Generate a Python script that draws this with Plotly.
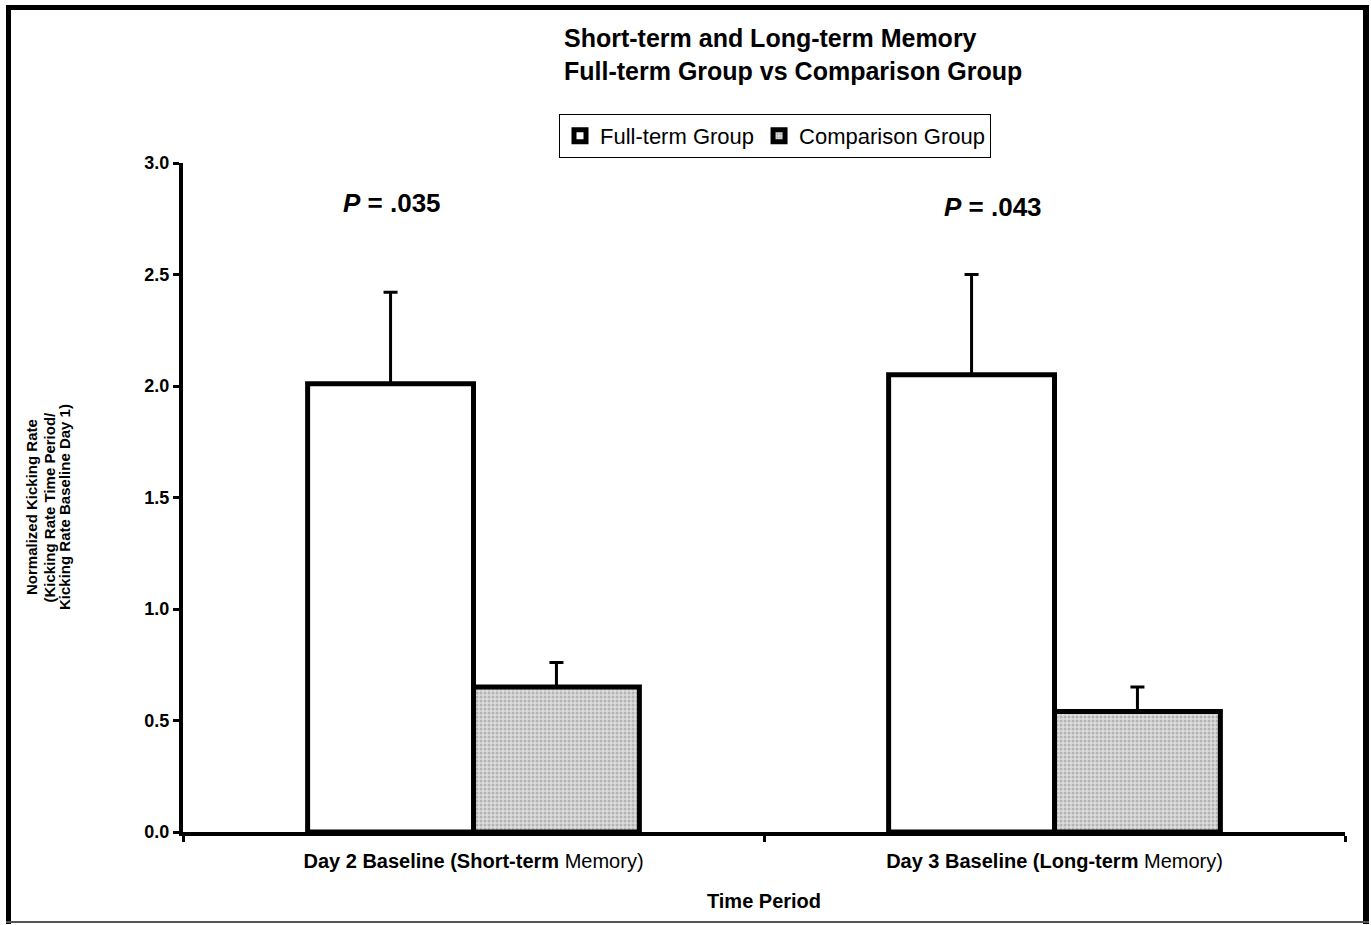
import plotly.graph_objects as go

# Data
categories = [
    "<b>Day 2 Baseline (Short-term</b> Memory)",
    "<b>Day 3 Baseline (Long-term</b> Memory)",
]
series_names = ["Full-term Group", "Comparison Group"]
full_term = [2.01, 2.05]
full_term_err = [0.41, 0.45]
comparison = [0.65, 0.54]
comparison_err = [0.11, 0.11]
p_labels = ["<i>P</i> = .035", "<i>P</i> = .043"]
y_ticks = [0.0, 0.5, 1.0, 1.5, 2.0, 2.5, 3.0]
y_title_lines = [
    "Normalized Kicking Rate",
    "(Kicking Rate Time Period/",
    "Kicking Rate Baseline Day 1)",
]

# Page geometry (pixels)
W, H = 1371, 925
L, R, T, B = 183, 1345, 163, 832


def px_x(x):
    return (x - L) / (R - L)


def px_y(y):
    return (B - y) / (B - T)


FONT = "Liberation Sans, Arial, sans-serif"

fig = go.Figure()
fig.add_trace(go.Bar(
    name=series_names[0], x=categories, y=full_term,
    marker=dict(color="white", line=dict(color="black", width=5)),
    error_y=dict(type="data", array=full_term_err, arrayminus=[0, 0],
                 symmetric=False, color="black", thickness=3, width=7),
))
fig.add_trace(go.Bar(
    name=series_names[1], x=categories, y=comparison,
    marker=dict(color="#d4d4d4", line=dict(color="black", width=5),
                pattern=dict(shape=".", fgcolor="#8a8a8a", bgcolor="#dcdcdc",
                             size=4, solidity=0.45)),
    error_y=dict(type="data", array=comparison_err, arrayminus=[0, 0],
                 symmetric=False, color="black", thickness=3, width=7),
))

annotations = [
    dict(text="<b>Short-term and Long-term Memory<br>Full-term Group vs Comparison Group</b>",
         x=px_x(562), y=px_y(22), xref="paper", yref="paper",
         xanchor="left", yanchor="top", align="left", showarrow=False,
         font=dict(family=FONT, size=25, color="black")),
]
p_pos = [(392, 203), (993, 207)]
for txt, (px, py) in zip(p_labels, p_pos):
    annotations.append(dict(
        text=f"<b>{txt}</b>", x=px_x(px), y=px_y(py), xref="paper", yref="paper",
        xanchor="center", yanchor="middle", showarrow=False,
        font=dict(family=FONT, size=26, color="black")))

# Rotated y-axis title, one line per annotation for tight line spacing
for line, px in zip(y_title_lines, [31, 48.5, 64]):
    annotations.append(dict(
        text=f"<b>{line}</b>", x=px_x(px), y=px_y(507), xref="paper", yref="paper",
        xanchor="center", yanchor="middle", textangle=-90, showarrow=False,
        font=dict(family=FONT, size=15, color="black")))

# Outer frame of the figure
shapes = [
    dict(type="line", xref="paper", yref="paper", x0=px_x(8.5), x1=px_x(8.5),
         y0=px_y(5), y1=px_y(924), line=dict(color="black", width=5)),
    dict(type="line", xref="paper", yref="paper", x0=px_x(6), x1=px_x(1369),
         y0=px_y(7.5), y1=px_y(7.5), line=dict(color="black", width=5)),
    dict(type="line", xref="paper", yref="paper", x0=px_x(1366), x1=px_x(1366),
         y0=px_y(5), y1=px_y(924), line=dict(color="black", width=6)),
    dict(type="line", xref="paper", yref="paper", x0=px_x(6), x1=px_x(1369),
         y0=px_y(922), y1=px_y(922), line=dict(color="#555555", width=2)),
]

fig.update_layout(
    width=W, height=H,
    margin=dict(l=L, r=W - R, t=T, b=H - B, pad=0),
    paper_bgcolor="white", plot_bgcolor="white",
    barmode="group", bargap=0.429, bargroupgap=0,
    font=dict(family=FONT, color="black"),
    showlegend=True,
    legend=dict(orientation="h", x=px_x(559), y=px_y(114),
                xanchor="left", yanchor="top",
                bordercolor="black", borderwidth=1, bgcolor="white",
                font=dict(family=FONT, size=22, color="black"),
                itemwidth=30, tracegroupgap=0),
    annotations=annotations,
    shapes=shapes,
    xaxis=dict(
        showline=True, linecolor="black", linewidth=4,
        ticks="outside", tickson="boundaries", ticklen=6, tickwidth=3,
        tickcolor="black", showgrid=False, ticklabelstandoff=8,
        tickfont=dict(family=FONT, size=20, color="black"),
        title=dict(text="<b>Time Period</b>", standoff=24,
                   font=dict(family=FONT, size=20, color="black")),
    ),
    yaxis=dict(
        range=[0, 3], tickvals=y_ticks, ticktext=[f"<b>{v:.1f}</b>" for v in y_ticks],
        showline=True, linecolor="black", linewidth=4,
        ticks="outside", ticklen=6, tickwidth=3, tickcolor="black",
        showgrid=False, zeroline=False,
        tickfont=dict(family=FONT, size=18, color="black"),
    ),
)

fig.write_html("out.html")
